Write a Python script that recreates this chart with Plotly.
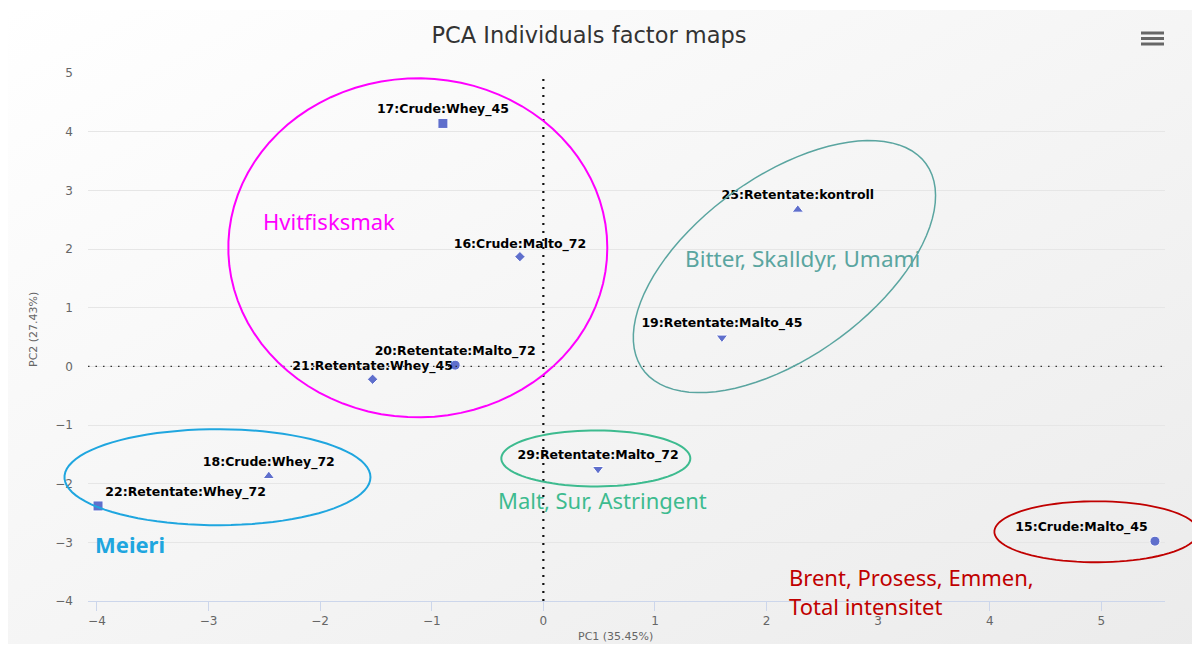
import base64
import numpy as np
import plotly.graph_objects as go

# individuals on the first two principal components
names = ["15:Crude:Malto_45", "16:Crude:Malto_72", "17:Crude:Whey_45", "18:Crude:Whey_72",
         "19:Retentate:Malto_45", "20:Retentate:Malto_72", "21:Retentate:Whey_45",
         "22:Retentate:Whey_72", "25:Retentate:kontroll", "29:Retentate:Malto_72"]
pc1 = [5.48, -0.21, -0.90, -2.46, 1.60, -0.79, -1.53, -3.99, 2.28, 0.49]
pc2 = [-2.98, 1.87, 4.14, -1.87, 0.49, 0.02, -0.22, -2.38, 2.67, -1.75]
symbols = ["circle", "diamond", "square", "triangle-up", "triangle-down",
           "circle", "diamond", "square", "triangle-up", "triangle-down"]
# labels near the plot edges are pushed inside, like the original chart does
text_pos = ["top left", "top center", "top center", "top center", "top center",
            "top center", "top center", "top right", "top center", "top center"]

x_ticks = [-4, -3, -2, -1, 0, 1, 2, 3, 4, 5]
y_ticks = [-4, -3, -2, -1, 0, 1, 2, 3, 4, 5]

# groups drawn by hand on top of the chart: (label, colour)
group_labels = ["Hvitfisksmak", "Bitter, Skalldyr, Umami", "<b>Meieri</b>", "Malt, Sur, Astringent",
                "Brent, Prosess, Emmen,<br>Total intensitet"]
group_colors = ["#ff00ff", "#5aa5a0", "#1fa6df", "#3dbb8f", "#c00000"]

# page has an 8px body margin, so the figure sits at (8, 8) in the window
OFF = 8
W, H = 1192, 636
ML, MR, MT, MB = 80, 35, 65, 43
PW, PH = W - ML - MR, H - MT - MB
X0, X1 = -4.08, 5.57
Y0, Y1 = -4, 5


def to_paper(x, y):
    return (x - X0) / (X1 - X0), (y - Y0) / (Y1 - Y0)


def px_to_paper(px, py):
    # window pixel -> paper coords
    return (px - OFF - ML) / PW, (H - MB - (py - OFF)) / PH


def ellipse_path(cx, cy, a_px, b_px, ang=0.0, n=90):
    # ellipse centred at a data point, axes given in screen pixels
    px, py = to_paper(cx, cy)
    t = np.linspace(0, 2 * np.pi, n)
    r = np.radians(ang)
    ex = a_px * np.cos(t) * np.cos(r) - b_px * np.sin(t) * np.sin(r)
    ey = a_px * np.cos(t) * np.sin(r) + b_px * np.sin(t) * np.cos(r)
    pts = [f"{px + dx / PW:.5f},{py + dy / PH:.5f}" for dx, dy in zip(ex, ey)]
    return "M " + " L ".join(pts) + " Z"


marker_sizes = [8 if s == "diamond" else 10 for s in symbols]

fig = go.Figure()
fig.add_trace(go.Scatter(
    x=pc1, y=pc2, mode="markers+text", text=names, textposition=text_pos,
    marker=dict(symbol=symbols, size=marker_sizes, color="#5f6fcc", opacity=1),
    textfont=dict(family="DejaVu Sans", size=12.5, color="#000000", weight="bold"),
    cliponaxis=False, showlegend=False, hoverinfo="text",
))

shapes = []
# dotted reference lines through the origin
shapes.append(dict(type="line", xref="x", yref="y", x0=0, x1=0, y0=Y0, y1=Y1,
                   line=dict(color="#111111", width=2.2, dash="2px,6px"), layer="above"))
shapes.append(dict(type="line", xref="paper", yref="y", x0=0, x1=1, y0=0, y1=0,
                   line=dict(color="#333333", width=1.3, dash="1.5px,6px"), layer="above"))

ellipses = [
    (-1.125, 2.02, 189.5, 169.5, 0, group_colors[0], 2),
    (2.16, 1.70, 175, 90, 36, group_colors[1], 1.5),
    (-2.92, -1.89, 153, 48, 0, group_colors[2], 2),
    (0.47, -1.57, 94.5, 28, 0, group_colors[3], 2),
    (4.955, -2.82, 102, 30.5, 0, group_colors[4], 1.8),
]
for cx, cy, a, b, ang, col, lw in ellipses:
    shapes.append(dict(type="path", xref="paper", yref="paper",
                       path=ellipse_path(cx, cy, a, b, ang),
                       line=dict(color=col, width=lw), layer="above"))

# hamburger menu icon
for py in [33, 38.5, 44]:
    xa, yy = px_to_paper(1141, py)
    xb, _ = px_to_paper(1164, py)
    shapes.append(dict(type="line", xref="paper", yref="paper",
                       x0=xa, x1=xb, y0=yy, y1=yy,
                       line=dict(color="#666666", width=3)))

annotations = []
label_pos = [(-1.92, 2.47, "center"), (2.32, 1.84, "center"), (-3.70, -3.02, "center"),
             (0.53, -2.27, "center"), (2.186, -3.84, "left")]
label_sizes = [22, 22.5, 22, 22, 22]
for (lx, ly, anc), txt, col, fs in zip(label_pos, group_labels, group_colors, label_sizes):
    annotations.append(dict(
        x=lx, y=ly, xref="x", yref="y", text=txt,
        showarrow=False, xanchor=anc, yanchor="middle", align="left",
        font=dict(family="Noto Sans", size=fs, color=col)))

tx, ty = px_to_paper(615, 636)
annotations.append(dict(x=tx, y=ty, xref="paper", yref="paper",
                        text="PC1 (35.45%)", showarrow=False,
                        xanchor="center", yanchor="middle",
                        font=dict(family="DejaVu Sans", size=11, color="#666666")))
tx, ty = px_to_paper(33, 330)
annotations.append(dict(x=tx, y=ty, xref="paper", yref="paper",
                        text="PC2 (27.43%)", showarrow=False, textangle=-90,
                        xanchor="center", yanchor="middle",
                        font=dict(family="DejaVu Sans", size=11, color="#666666")))

# soft grey background gradient
svg = ('<svg xmlns="http://www.w3.org/2000/svg" width="1200" height="645">'
       '<defs><linearGradient id="g" x1="0" y1="0" x2="1" y2="1">'
       '<stop offset="0" stop-color="#ffffff"/><stop offset="1" stop-color="#ebebeb"/>'
       '</linearGradient></defs><rect width="1200" height="645" fill="url(#g)"/></svg>')
bg = "data:image/svg+xml;base64," + base64.b64encode(svg.encode()).decode()
bx, by = px_to_paper(8, 10)

fig.update_layout(
    width=W, height=H,
    margin=dict(l=ML, r=MR, t=MT, b=MB),
    paper_bgcolor="#ffffff", plot_bgcolor="rgba(0,0,0,0)",
    title=dict(text="PCA Individuals factor maps", x=(589 - OFF) / W, xanchor="center",
               y=1 - (35 - OFF) / H, yanchor="middle",
               font=dict(family="DejaVu Sans", size=22.5, color="#333333")),
    xaxis=dict(range=[X0, X1], tickvals=x_ticks, showgrid=False, zeroline=False,
               showline=True, linecolor="#ccd6eb", linewidth=1,
               ticks="outside", ticklen=9, tickcolor="#ccd6eb",
               tickfont=dict(family="DejaVu Sans", size=12, color="#666666")),
    yaxis=dict(range=[Y0, Y1], tickvals=y_ticks, showgrid=True, gridcolor="#e6e6e6",
               zeroline=False, showline=False, ticklabelstandoff=14,
               tickfont=dict(family="DejaVu Sans", size=12, color="#666666")),
    shapes=shapes, annotations=annotations,
    images=[dict(source=bg, xref="paper", yref="paper",
                 x=bx, y=by, sizex=1200 / PW, sizey=645 / PH, sizing="stretch",
                 xanchor="left", yanchor="top", layer="below")],
)

fig.write_html("out.html")
